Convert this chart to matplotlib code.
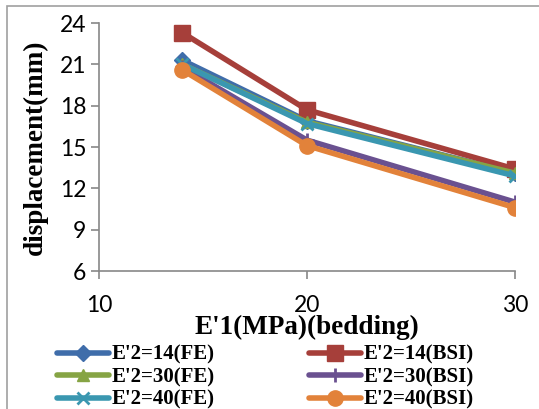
import matplotlib.pyplot as plt
from matplotlib.patches import Rectangle

x_vals = [14, 20, 30]
fe14 = [21.3, 16.9, 13.1]
bsi14 = [23.3, 17.7, 13.4]
fe30 = [21.0, 16.8, 13.1]
bsi30 = [20.8, 15.5, 11.0]
fe40 = [21.0, 16.7, 12.9]
bsi40 = [20.6, 15.1, 10.6]

labels = ["E'2=14(FE)", "E'2=14(BSI)", "E'2=30(FE)",
          "E'2=30(BSI)", "E'2=40(FE)", "E'2=40(BSI)"]
series = [fe14, bsi14, fe30, bsi30, fe40, bsi40]
colors = ['#3F6DAA', '#A63F3A', '#86A444', '#6A5190', '#3A97B0', '#E2823A']
markers = ['D', 's', '^', '+', 'x', 'o']
msizes = [8, 11, 9, 10, 8, 11]

fig = plt.figure(figsize=(5.39, 4.09), dpi=100)
ax = fig.add_axes([99 / 539, 1 - 271 / 409, (515 - 99) / 539, (271 - 23) / 409])

fig.patches.append(Rectangle((7 / 539, -0.1), 1.2, 1 - 6 / 409 + 0.1,
                             transform=fig.transFigure, fill=False,
                             edgecolor='#A0A0A0', linewidth=1.2))

handles = []
for y, lab, c, m, ms in zip(series, labels, colors, markers, msizes):
    h, = ax.plot(x_vals, y, color=c, linewidth=4, marker=m, markersize=ms,
                 markeredgewidth=2 if m in ('+', 'x') else 1,
                 markeredgecolor=c, label=lab, solid_capstyle='round')
    handles.append(h)

ax.set_xlim(10, 30)
ax.set_ylim(6, 24)
ax.set_xticks([10, 20, 30])
ax.set_yticks(range(6, 25, 3))
for s in ['top', 'right']:
    ax.spines[s].set_visible(False)
for s in ['left', 'bottom']:
    ax.spines[s].set_color('#888888')
    ax.spines[s].set_linewidth(1.2)
ax.tick_params(direction='out', length=6, color='#888888', width=1.2,
               labelsize=16.5)
ax.tick_params(axis='x', pad=11)
ax.tick_params(axis='y', pad=3)
for t in ax.get_xticklabels() + ax.get_yticklabels():
    t.set_family('Lato')

ax.set_xlabel("E'1(MPa)(bedding)", family='Liberation Serif', fontweight='bold',
              fontsize=19.5)
ax.xaxis.set_label_coords(0.5, -0.176)
ax.set_ylabel('displacement(mm)', family='Liberation Serif', fontweight='bold',
              fontsize=19.5, labelpad=9)

# excel fills legend row by row, matplotlib column by column
order = [0, 2, 4, 1, 3, 5]
fig.legend(handles=[handles[i] for i in order], loc='lower left',
           bbox_to_anchor=(38 / 539, -0.048),
           ncol=2, frameon=False, columnspacing=4.5, handlelength=2.5,
           handletextpad=0.15, labelspacing=0.12,
           prop={'family': 'Liberation Serif', 'weight': 'bold', 'size': 15})

fig.savefig('out.png', dpi=100)
